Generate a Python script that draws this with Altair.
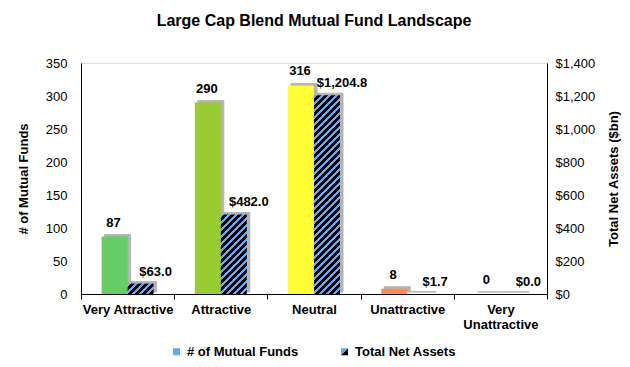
import altair as alt
import pandas as pd

categories = ["Very Attractive", "Attractive", "Neutral", "Unattractive", "Very Unattractive"]
num_funds = [87, 290, 316, 8, 0]
net_assets = [63.0, 482.0, 1204.8, 1.7, 0.0]
bar_colors = ["#66cc66", "#99cc33", "#ffff33", "#ff8c57", "#ff3333"]
series = ["# of Mutual Funds", "Total Net Assets"]

FONT = "Liberation Sans"
W, H = 466, 231
BAR_W = 26
BLUE = "#62a9f8"
ASSET_MAX = 1400
FUND_MAX = 350

df = pd.DataFrame({"cat": categories, "funds": num_funds, "assets": net_assets, "clr": bar_colors})
legend_df = pd.DataFrame({"series": series})


def stripes(v, period=7.0, blue_frac=0.42):
    h = v / ASSET_MAX * H
    w = float(BAR_W)
    if h < 1:
        return None
    L = w + h
    k = L / (w * w + h * h)
    stops = []
    j = 0
    while j * period < L:
        a = j * period / L
        b = min((j * period + blue_frac * period) / L, 1.0)
        c = min((j + 1) * period / L, 1.0)
        stops += [
            {"offset": a, "color": BLUE},
            {"offset": b, "color": BLUE},
            {"offset": b, "color": "black"},
            {"offset": c, "color": "black"},
        ]
        j += 1
    return {"gradient": "linear", "x1": 0, "y1": 0, "x2": w * k, "y2": h * k, "stops": stops}


x_enc = alt.X(
    "cat:N",
    sort=categories,
    scale=alt.Scale(paddingInner=0, paddingOuter=0),
    axis=alt.Axis(
        title=None,
        labelAngle=0,
        labelFontWeight="bold",
        labelFontSize=13,
        labelFont=FONT,
        labelColor="black",
        labelPadding=4,
        tickBand="extent",
        tickSize=5,
        tickColor="black",
        domainColor="black",
        labelExpr="datum.label == 'Very Unattractive' ? ['Very', 'Unattractive'] : datum.label",
        labelLineHeight=15,
    ),
)

y_funds = alt.Y(
    "funds:Q",
    scale=alt.Scale(domain=[0, FUND_MAX], nice=False),
    axis=alt.Axis(
        title="# of Mutual Funds",
        values=list(range(0, 351, 50)),
        ticks=False,
        grid=False,
        labelPadding=14,
        labelFontSize=13,
        labelFont=FONT,
        labelColor="black",
        titleFontSize=13,
        titleFont=FONT,
        titleFontWeight="bold",
        titleColor="black",
        titlePadding=15,
        domainColor="black",
    ),
)

y_assets = alt.Y(
    "assets:Q",
    scale=alt.Scale(domain=[0, ASSET_MAX], nice=False),
    axis=alt.Axis(
        orient="right",
        title="Total Net Assets ($bn)",
        values=list(range(0, 1401, 200)),
        format="$,.0f",
        ticks=False,
        grid=False,
        labelPadding=8,
        labelFontSize=13,
        labelFont=FONT,
        labelColor="black",
        titleFontSize=13,
        titleFont=FONT,
        titleFontWeight="bold",
        titleColor="black",
        titleAngle=270,
        titleBaseline="top",
        titlePadding=13,
        domainColor="black",
    ),
)

base = alt.Chart(df)

SHADOW = "#b4b4b4"

shadow_funds = base.mark_bar(
    width=BAR_W, xOffset=-BAR_W / 2 + 3, yOffset=-2, color=SHADOW, stroke=SHADOW, strokeWidth=1
).encode(x=x_enc, y=y_funds)
bars_funds = base.mark_bar(width=BAR_W, xOffset=-BAR_W / 2).encode(
    x=x_enc, y=y_funds, color=alt.Color("clr:N", scale=None)
)
labels_funds = base.mark_text(
    dx=-14, dy=-10, baseline="alphabetic", fontWeight="bold", fontSize=13, font=FONT, color="black"
).encode(x=x_enc, y=y_funds, text=alt.Text("funds:Q", format="d"))

legend_layer = alt.Chart(legend_df).mark_square(size=0, opacity=0).encode(
    color=alt.Color(
        "series:N",
        scale=alt.Scale(
            domain=series,
            range=[
                BLUE,
                {
                    "expr": "{gradient: 'linear', x1: 0, y1: 0, x2: 1, y2: 1, stops: [{offset: 0, color: '"
                    + BLUE
                    + "'}, {offset: 0.5, color: '"
                    + BLUE
                    + "'}, {offset: 0.5, color: 'black'}, {offset: 1, color: 'black'}]}"
                },
            ],
        ),
        legend=alt.Legend(
            title=None,
            orient="none",
            legendX=89,
            legendY=282,
            direction="horizontal",
            symbolType="square",
            symbolSize=50,
            symbolOpacity=1,
            symbolStrokeWidth=0,
            labelFontSize=13,
            labelFont=FONT,
            labelFontWeight="bold",
            labelColor="black",
            columnPadding=39,
            padding=0,
        ),
    )
)

funds_layer = alt.layer(shadow_funds, bars_funds, labels_funds)

shadow_assets = base.mark_bar(
    width=BAR_W, xOffset=BAR_W / 2 + 3, yOffset=-2, color=SHADOW, stroke=SHADOW, strokeWidth=1
).encode(x=x_enc, y=y_assets)

asset_bar_layers = []
for c, v in zip(categories, net_assets):
    g = stripes(v)
    if g is None:
        continue
    asset_bar_layers.append(
        base.transform_filter(alt.datum.cat == c)
        .mark_bar(width=BAR_W, xOffset=BAR_W / 2, fill=g)
        .encode(x=x_enc, y=y_assets)
    )

labels_assets = base.mark_text(
    dx=28, dy=-8, baseline="alphabetic", fontWeight="bold", fontSize=13, font=FONT, color="black"
).encode(x=x_enc, y=y_assets, text=alt.Text("assets:Q", format="$,.1f"))

assets_layer = alt.layer(shadow_assets, *asset_bar_layers, labels_assets)

chart = (
    alt.layer(funds_layer, assets_layer, legend_layer)
    .resolve_scale(y="independent")
    .properties(
        width=W,
        height=H,
        title=alt.TitleParams(
            "Large Cap Blend Mutual Fund Landscape",
            fontSize=16,
            font=FONT,
            fontWeight="bold",
            color="black",
            anchor="middle",
            offset=28,
        ),
    )
    .configure_view(stroke=None)
    .configure(padding={"left": 9, "top": 5, "right": 0, "bottom": 5})
)

chart.save("out.html", embed_options={"renderer": "svg", "actions": False})
